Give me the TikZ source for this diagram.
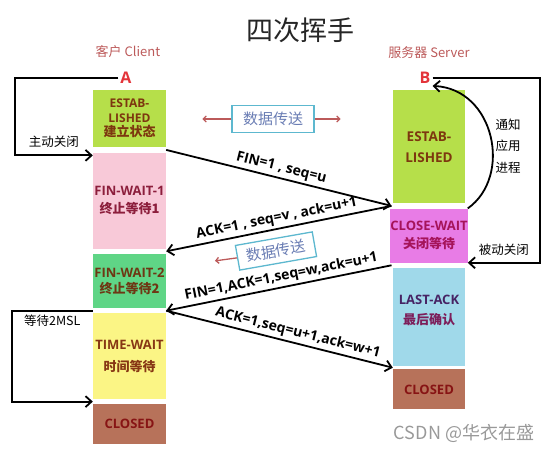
\documentclass[tikz,border=0pt]{standalone}
\usepackage{fontspec}
\setmainfont{Open Sans}
\newfontfamily\cjk{Noto Sans CJK SC}
\usetikzlibrary{
  positioning,
  calc,
  arrows.meta
}
\definecolor{limebox}{HTML}{B6DF4A}
\definecolor{pinkbox}{HTML}{F8C9D8}
\definecolor{greenbox}{HTML}{5FD586}
\definecolor{yellowbox}{HTML}{FBF585}
\definecolor{brownbox}{HTML}{B7725A}
\definecolor{magbox}{HTML}{E87CE6}
\definecolor{bluebox}{HTML}{A0D9EA}
\definecolor{labred}{HTML}{BC5A5A}
\definecolor{hotred}{HTML}{E3343A}
\definecolor{datline}{HTML}{5DB8CF}
\definecolor{dattext}{HTML}{6A7DB4}

\begin{document}
\begin{tikzpicture}[x=1pt,y=1pt,>={Straight Barb[length=6pt,width=11pt]},
  stbox/.style={minimum width=73pt,inner sep=0pt,align=center,font=\bfseries\fontsize{13}{18}\selectfont},
  msgline/.style={->,line width=1.8pt},
  msglabel/.style={midway,sloped,above,inner sep=2.5pt,font=\bfseries\fontsize{14}{15}\selectfont},
  backline/.style={->,line width=1.8pt},
  sidelabel/.style={font=\cjk\fontsize{12.5}{14}\selectfont},
  datbox/.style={draw=datline,line width=1.3pt,fill=white,inner xsep=11pt,minimum height=27pt,text=dattext,font=\cjk\fontsize{15}{15}\selectfont},
  redarrow/.style={->,>={Straight Barb[length=3pt,width=6pt]},labred,line width=1.3pt}]
\useasboundingbox (0,0) rectangle (553,-454);

\node[font=\cjk\fontsize{27}{27}\selectfont,text=black!85] (title) at (300,-30) {四次挥手};
\node[font=\cjk\fontsize{13}{13}\selectfont,text=labred] (client) at (128,-52) {客户 Client};
\node[font=\cjk\fontsize{13}{13}\selectfont,text=labred] (server) at (429,-53) {服务器 Server};
\node[font=\bfseries\fontsize{16}{16}\selectfont,text=hotred,inner sep=2pt] (A) at (126,-78) {A};
\node[font=\bfseries\fontsize{16}{16}\selectfont,text=hotred,inner sep=2pt] (B) at (425,-78) {B};

% client side
\node[stbox,anchor=north,fill=limebox,minimum height=57pt,text={rgb,255:red,125;green,55;blue,15},font=\bfseries\fontsize{12}{14.5}\selectfont] (c1) at (129.5,-90) {ESTAB-\\LISHED\\{\cjk\bfseries\fontsize{13}{15}\selectfont 建立状态}};
\node[stbox,below=5pt of c1,fill=pinkbox,minimum height=96pt,text={rgb,255:red,140;green,30;blue,60}] (c2) {FIN-WAIT-1\\{\cjk\bfseries 终止等待1}};
\node[stbox,below=5pt of c2,fill=greenbox,minimum height=54pt,text={rgb,255:red,110;green,55;blue,20},font=\bfseries\fontsize{13}{16}\selectfont] (c3) {FIN-WAIT-2\\{\cjk\bfseries 终止等待2}};
\node[stbox,below=5pt of c3,fill=yellowbox,minimum height=86pt,text={rgb,255:red,135;green,55;blue,20},font=\bfseries\fontsize{13}{22}\selectfont] (c4) {TIME-WAIT\\{\cjk\bfseries 时间等待}};
\node[stbox,below=4pt of c4,fill=brownbox,minimum height=40pt,text={rgb,255:red,135;green,20;blue,20}] (c5) {CLOSED};

% server side
\node[stbox,anchor=north,fill=limebox,minimum width=72pt,minimum height=113pt,text={rgb,255:red,125;green,55;blue,15},font=\bfseries\fontsize{13.5}{21}\selectfont] (s1) at (429,-90) {ESTAB-\\LISHED};
\node[stbox,below=5pt of s1,fill=magbox,minimum width=72pt,minimum height=54pt,text={rgb,255:red,165;green,20;blue,90}] (s2) {CLOSE-WAIT\\{\cjk\bfseries 关闭等待}};
\node[stbox,below=5pt of s2,fill=bluebox,minimum width=72pt,minimum height=98pt,text={rgb,255:red,70;green,35;blue,100},font=\bfseries\fontsize{13}{20}\selectfont] (s3) {LAST-ACK\\{\cjk\bfseries\color[RGB]{125,30,90} 最后确认}\\[-6pt]};
\node[stbox,below=3pt of s3,fill=brownbox,minimum width=72pt,minimum height=40pt,text={rgb,255:red,135;green,20;blue,20}] (s4) {CLOSED};

% messages
\draw[msgline] ($(c1.south east)!.5!(c2.north east)$) -- node[msglabel] {FIN=1 , seq=u} ($(s1.south west)!.5!(s2.north west)$);
\draw[msgline] ($(s1.south west)!.5!(s2.north west)$) -- node[msglabel] {ACK=1 , seq=v , ack=u+1} ($(c2.south east)!.5!(c3.north east)$);
\draw[msgline] ($(s2.south west)!.5!(s3.north west)$) -- node[msglabel,pos=.48] {FIN=1,ACK=1,seq=w,ack=u+1} ($(c3.south east)!.5!(c4.north east)$);
\draw[msgline] ($(c3.south east)!.5!(c4.north east)$) -- node[msglabel,pos=.57] {ACK=1,seq=u+1,ack=w+1} ($(s3.south west)!.5!(s4.north west)$);

% data transfer
\node[datbox] (d1) at (273,-119) {数据传送};
\draw[redarrow] (d1.west) -- ++(-29,0);
\draw[redarrow] (d1.east) -- ++(26,0);
\node[datbox,rotate=10,minimum height=25pt,inner xsep=9pt] (d2) at (276,-251) {数据传送};
\draw[redarrow] (d2.west) -- ++(-22,-3);

% close loops
\draw[backline] (A.west) -| ([xshift=-78pt,yshift=-3pt]c2.north west) -- node[sidelabel,above,yshift=4pt] {主动关闭} ([yshift=-3pt]c2.north west);
\draw[backline] ($(c3.south west)!.5!(c4.north west)$) -- node[sidelabel,below] {等待2MSL} ++(-81,0) |- ($(c4.south west)!.5!(c5.north west)$);
\draw[backline] (B.east) -| ([xshift=72pt]s2.south east) -- node[sidelabel,above,yshift=3pt] {被动关闭} (s2.south east);
\draw[backline] (s2.north east) .. controls +(45,32) and +(62,-3) .. (B.south east);
\node[sidelabel,align=center,font=\cjk\fontsize{12.5}{21.5}\selectfont] (notify) at (508,-146) {通知\\应用\\进程};

\node[font=\cjk\fontsize{18}{18}\selectfont,text=black!40] (mark) at (464,-433) {CSDN @华衣在盛};
\end{tikzpicture}
\end{document}
